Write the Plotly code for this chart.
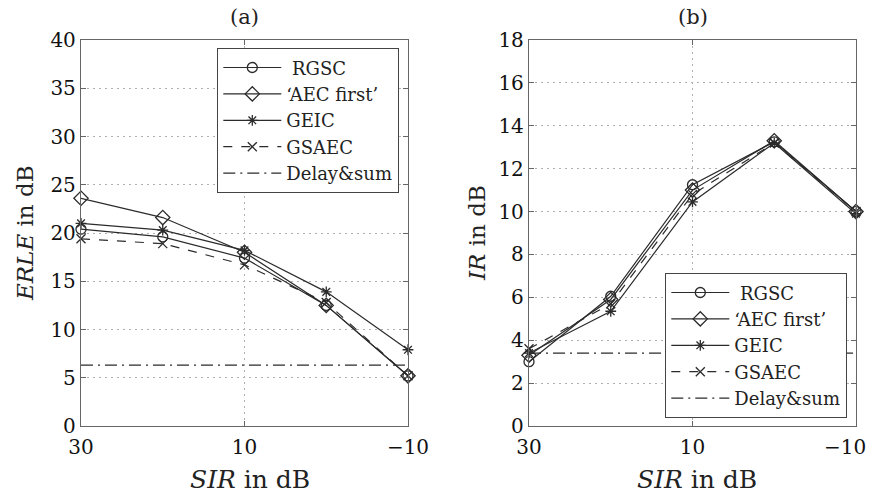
import plotly.graph_objects as go

sir = [30, 20, 10, 0, -10]
series_names = ["\u00a0RGSC", "\u2018AEC first\u2019", "GEIC", "GSAEC", "Delay&sum"]

# (a) ERLE in dB
erle_rgsc = [20.4, 19.6, 17.4, 12.5, 5.2]
erle_aec = [23.6, 21.6, 18.0, 12.5, 5.2]
erle_geic = [21.0, 20.3, 18.2, 13.9, 7.9]
erle_gsaec = [19.4, 18.9, 16.7, 12.8, 5.2]
erle_ds = [6.3, 6.3, 6.3, 6.3, 6.3]

# (b) IR in dB
ir_rgsc = [3.0, 6.05, 11.25, 13.25, 10.0]
ir_aec = [3.3, 5.9, 11.0, 13.3, 10.0]
ir_geic = [3.4, 5.35, 10.45, 13.2, 9.9]
ir_gsaec = [3.6, 5.7, 10.8, 13.2, 10.0]
ir_ds = [3.4, 3.4, 3.4, 3.4, 3.4]

x_ticks = [30, 10, -10]
x_tick_text = ["30", "10", "\u221210"]
x2_tick_text = ["30", "10", ""]
x2_last_label = "\u221210"
erle_ticks = list(range(0, 41, 5))
ir_ticks = list(range(0, 19, 2))

LC = "#2b2b2b"
styles = [
    dict(symbol="circle-open", dash="solid", size=10),
    dict(symbol="diamond-open", dash="solid", size=11),
    dict(symbol="asterisk-open", dash="solid", size=9),
    dict(symbol="x-thin-open", dash="dash", size=9),
    dict(symbol=None, dash="12px,5px,2px,5px", size=0),
]

fig = go.Figure()

def add_panel(ys, xa, ya, legend):
    for name, y, st in zip(series_names, ys, styles):
        if st["symbol"] is None:
            fig.add_trace(go.Scatter(
                x=sir, y=y, name=name, mode="lines", cliponaxis=False,
                line=dict(color=LC, width=1.2, dash=st["dash"]),
                xaxis=xa, yaxis=ya, legend=legend))
        else:
            fig.add_trace(go.Scatter(
                x=sir, y=y, name=name, mode="lines+markers", cliponaxis=False,
                line=dict(color=LC, width=1.2, dash=st["dash"]),
                marker=dict(symbol=st["symbol"], size=st["size"], color=LC,
                            line=dict(color=LC, width=1.3)),
                xaxis=xa, yaxis=ya, legend=legend))

add_panel([erle_rgsc, erle_aec, erle_geic, erle_gsaec, erle_ds], "x", "y", "legend")
add_panel([ir_rgsc, ir_aec, ir_geic, ir_gsaec, ir_ds], "x2", "y2", "legend2")

FONT = "DejaVu Serif"
TICKFONT = dict(family=FONT, size=20, color="#111")
ax_common = dict(
    showline=True, linecolor="#666", linewidth=1.3, mirror="ticks",
    ticks="inside", ticklen=5, tickcolor="#666", automargin=False,
    ticklabeloverflow="allow",
    showgrid=True, gridcolor="#b0b0b0", griddash="1.5px,4.5px", gridwidth=1.2,
    zeroline=False, tickfont=TICKFONT,
)

y_dom = [1 - 426 / 496, 1 - 40 / 496]
legend_common = dict(bgcolor="white", bordercolor="#444", borderwidth=1.3,
                     font=dict(family=FONT, size=18, color="#222"),
                     tracegroupgap=0, itemwidth=58)
fig.update_layout(
    template="none",
    width=871, height=496,
    margin=dict(l=0, r=0, t=0, b=0),
    paper_bgcolor="white", plot_bgcolor="white",
    font=dict(family=FONT, size=20, color="#111"),
    xaxis=dict(domain=[81 / 871, 408 / 871], range=[30, -10], ticklabelstandoff=3,
               tickvals=x_ticks, ticktext=x_tick_text, anchor="y", **ax_common),
    yaxis=dict(domain=y_dom, range=[0, 40], tickvals=erle_ticks, anchor="x", **ax_common),
    xaxis2=dict(domain=[529 / 871, 856 / 871], range=[30, -10], ticklabelstandoff=3,
                tickvals=x_ticks, ticktext=x2_tick_text, anchor="y2", **ax_common),
    yaxis2=dict(domain=y_dom, range=[0, 18], tickvals=ir_ticks, anchor="x2", **ax_common),
    legend=dict(x=399 / 871, y=1 - 48 / 496, xanchor="right", yanchor="top", **legend_common),
    legend2=dict(x=847 / 871, y=1 - 418 / 496, xanchor="right", yanchor="bottom", **legend_common),
    showlegend=True,
)

title_font = dict(family=FONT, size=21, color="#222")
axis_title_font = dict(family=FONT, size=23, color="#222")
x_title_font = dict(family=FONT, size=25, color="#222")
annotations = [
    dict(text="(a)", x=244.5 / 871, y=1 - 17 / 496, font=title_font),
    dict(text="(b)", x=692.5 / 871, y=1 - 17 / 496, font=title_font),
    dict(text="<i>SIR</i> in dB", x=250 / 871, y=1 - 479 / 496, font=x_title_font),
    dict(text="<i>SIR</i> in dB", x=697 / 871, y=1 - 479 / 496, font=x_title_font),
    dict(text="<i>ERLE</i> in dB", x=25 / 871, y=1 - 233 / 496, textangle=-90, font=axis_title_font),
    dict(text="<i>IR</i> in dB", x=477 / 871, y=1 - 233 / 496, textangle=-90, font=axis_title_font),
]
for a in annotations:
    fig.add_annotation(xref="paper", yref="paper", showarrow=False,
                       xanchor="center", yanchor="middle", **a)

# last x tick label of panel (b), kept inside the page like the reference
fig.add_annotation(xref="paper", yref="paper", showarrow=False,
                   x=868 / 871, y=1 - 447 / 496, xanchor="right", yanchor="middle",
                   text=x2_last_label, font=TICKFONT)

fig.write_html("out.html", config={"displayModeBar": False},
               post_script="document.body.style.margin='0px';")
